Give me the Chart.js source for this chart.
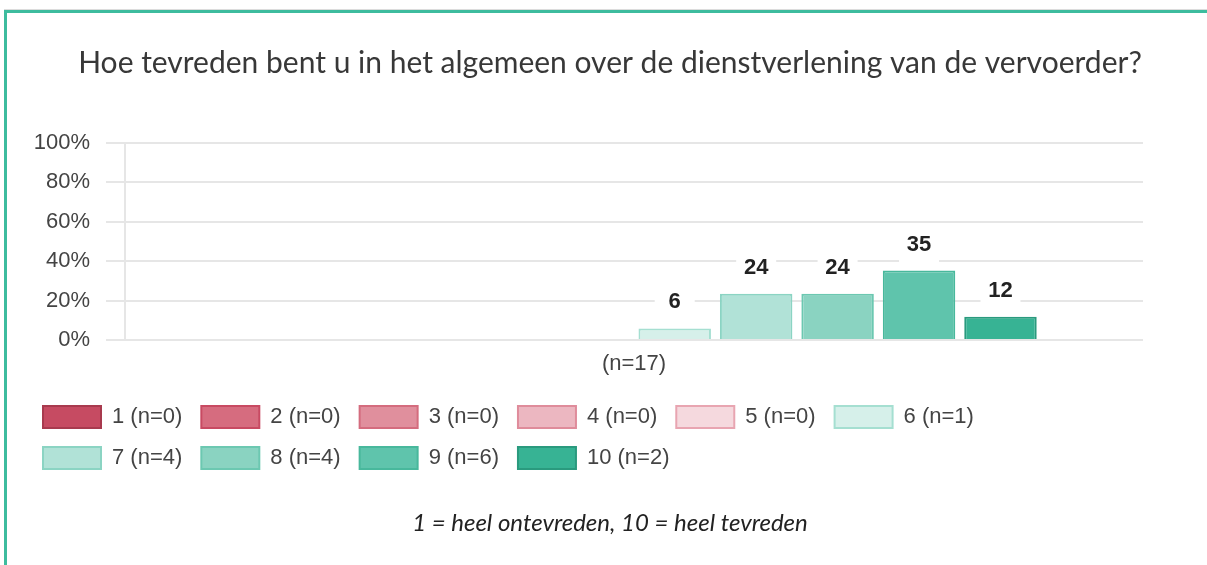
<!DOCTYPE html>
<html><head><meta charset="utf-8">
<script src="https://cdn.jsdelivr.net/npm/chart.js@4.4.1/dist/chart.umd.min.js"></script>
<style>
html,body{margin:0;padding:0;background:#fff;width:1207px;height:565px;overflow:hidden}
#frame{position:absolute;left:4px;top:10px;width:1300px;height:700px;border-top:3px solid #3dbc9e;border-left:3px solid #3dbc9e;box-shadow:0 -1px 0 #dcdcdc}
#c{position:absolute;left:0;top:0}
</style></head><body>
<div id="frame"></div>
<canvas id="c" width="1207" height="565"></canvas>
<script>
const categories = ['(n=17)'];
const seriesNames = ['1 (n=0)','2 (n=0)','3 (n=0)','4 (n=0)','5 (n=0)','6 (n=1)','7 (n=4)','8 (n=4)','9 (n=6)','10 (n=2)'];
const seriesValues = [0, 0, 0, 0, 0, 5.9, 23.5, 23.5, 35.3, 11.8];
const fillColors = ['#c64b62','#d66c7f','#e08f9d','#ecb7c1','#f5d9de','#d6f0ea','#b1e2d7','#8ad3c1','#5fc4ac','#37b394'];
const borderColors = ['#a83a4e','#c84a62','#d46c7e','#df8c9b','#e8a5b1','#a5dfd1','#8bd4c3','#6cc8b1','#48b89c','#2a9a7e'];
const yTicks = [0, 20, 40, 60, 80, 100];
const titleText = 'Hoe tevreden bent u in het algemeen over de dienstverlening van de vervoerder?';
const noteText = '1 = heel ontevreden, 10 = heel tevreden';

const SANS = '"Liberation Sans", Arial, sans-serif';

const valueLabels = {
  id: 'valueLabels',
  afterDatasetsDraw(chart) {
    const ctx = chart.ctx;
    ctx.save();
    ctx.font = 'bold 22px ' + SANS;
    ctx.textAlign = 'center';
    ctx.textBaseline = 'middle';
    chart.data.datasets.forEach((ds, i) => {
      const meta = chart.getDatasetMeta(i);
      meta.data.forEach((bar, j) => {
        const v = ds.data[j];
        if (!v) return;
        const ly = bar.y - 26;
        ctx.fillStyle = '#ffffff';
        ctx.fillRect(bar.x - 20, ly - 15, 40, (bar.y - 3) - (ly - 15));
        ctx.fillStyle = '#222222';
        ctx.fillText(String(Math.round(v)), bar.x, ly);
      });
    });
    ctx.restore();
  }
};

const legendWrap = {
  id: 'legendWrap',
  afterLayout(chart) {
    const l = chart.legend;
    if (l) { l.width = 1000; l.right = l.left + 1000; }
  }
};

new Chart(document.getElementById('c'), {
  type: 'bar',
  data: {
    labels: categories,
    datasets: seriesNames.map((name, i) => ({
      label: name,
      data: [seriesValues[i]],
      backgroundColor: fillColors[i],
      borderColor: borderColors[i],
      borderWidth: 2,
      barPercentage: 0.89,
      categoryPercentage: 0.8
    }))
  },
  options: {
    responsive: false,
    animation: false,
    events: [],
    layout: { padding: { left: 24, right: 11, top: 0, bottom: 27.6 } },
    scales: {
      x: {
        grid: { display: false, drawTicks: false },
        border: { display: false },
        ticks: { color: '#444', font: { family: SANS, size: 22 }, padding: 11 },
        afterFit(s) { s.height = 47; }
      },
      y: {
        min: 0, max: 100,
        afterBuildTicks(s) { s.ticks = yTicks.map(v => ({ value: v })); },
        grid: { color: '#e6e6e6', lineWidth: 2, tickLength: 19, drawTicks: true },
        border: { display: true, color: '#e6e6e6', width: 2 },
        ticks: { color: '#444', font: { family: SANS, size: 22 }, padding: 16, callback: v => v + '%' },
        afterFit(s) { s.width = 101; }
      },
      yRight: {
        type: 'linear', position: 'right', display: true,
        grid: { display: false, drawTicks: false },
        border: { display: false },
        ticks: { display: false },
        afterFit(s) { s.width = 53; }
      }
    },
    plugins: {
      title: {
        display: true, text: titleText, color: '#383838',
        font: { family: 'Lato', size: 30, weight: 'normal' },
        padding: { top: 45, bottom: 62 }
      },
      subtitle: {
        display: true, text: noteText, position: 'bottom', color: '#222',
        font: { family: 'Lato', size: 24, style: 'italic', weight: 'normal' },
        padding: { top: 29.6, bottom: 0 }
      },
      legend: {
        position: 'bottom', align: 'start',
        labels: { boxWidth: 58, boxHeight: 22, padding: 19, color: '#444', font: { family: SANS, size: 22 } }
      },
      tooltip: { enabled: false }
    }
  },
  plugins: [valueLabels, legendWrap]
});
</script>
</body></html>
